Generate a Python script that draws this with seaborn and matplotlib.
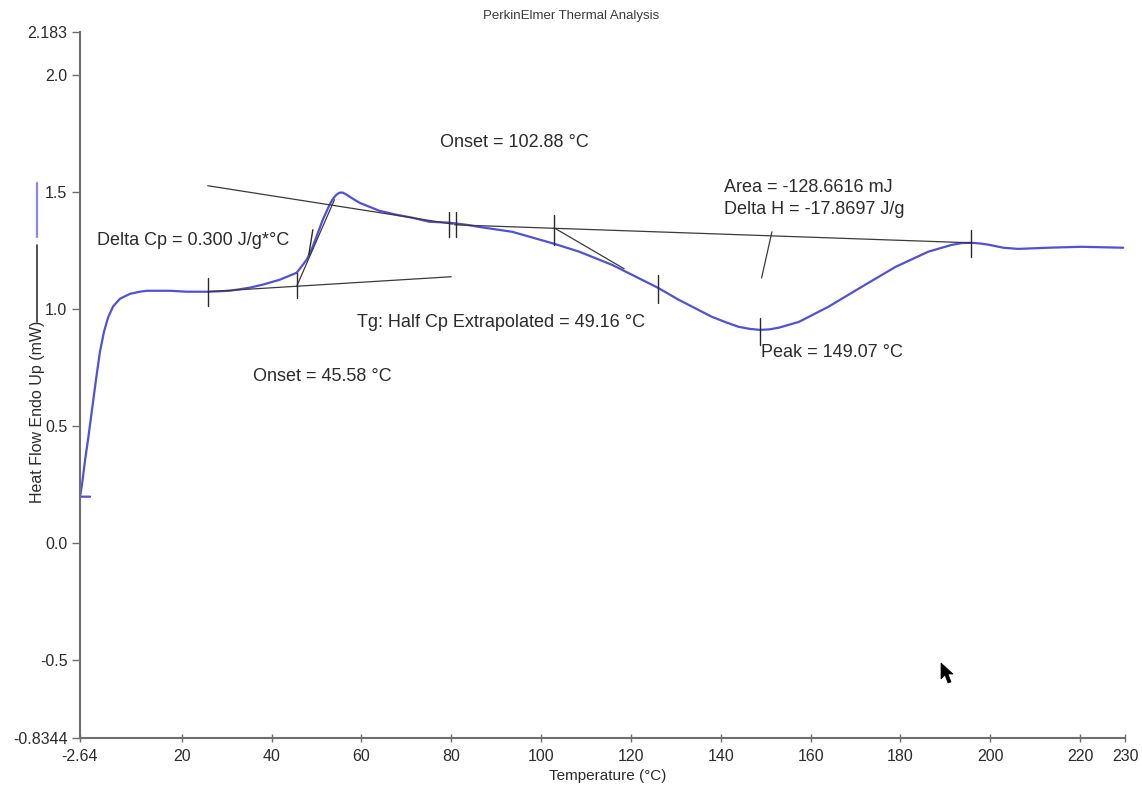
import numpy as np
import pandas as pd
import matplotlib
matplotlib.use("Agg")
import matplotlib.pyplot as plt
import seaborn as sns
from matplotlib.lines import Line2D
from matplotlib.patches import Polygon

# ---------------- data ----------------
temperature = [-0.4, -2.64, -2.2, -1.5, -0.86, 0.03, 0.92, 1.8, 2.7, 3.6, 4.7, 6.25, 8.5,
               10.7, 12.25, 17.4, 21.1, 25.8, 30.7, 35.1, 38.0, 41.8, 45.6, 47.8, 48.9,
               50.0, 51.4, 52.9, 53.6, 54.4, 55.1, 55.8, 56.6, 57.8, 59.6, 61.8, 64.0,
               67.8, 71.4, 75.1, 79.6, 83.4, 86.2, 93.6, 102.9, 108.5, 115.8, 126.0,
               130.7, 138.0, 141.2, 144.0, 146.5, 148.7, 150.8, 152.9, 157.4, 164.0,
               171.4, 178.9, 186.2, 191.4, 193.7, 195.8, 197.8, 199.6, 202.9, 206.2,
               212.9, 220.2, 229.6]
heat_flow = [0.197, 0.197, 0.248, 0.355, 0.44, 0.568, 0.697, 0.816, 0.902, 0.962, 1.009,
             1.043, 1.064, 1.073, 1.077, 1.077, 1.073, 1.073, 1.077, 1.090, 1.103, 1.124,
             1.154, 1.209, 1.252, 1.308, 1.380, 1.444, 1.468, 1.487, 1.496, 1.497, 1.489,
             1.474, 1.453, 1.436, 1.419, 1.402, 1.389, 1.372, 1.368, 1.359, 1.350, 1.329,
             1.278, 1.244, 1.188, 1.090, 1.038, 0.966, 0.942, 0.923, 0.914, 0.910, 0.912,
             0.919, 0.944, 1.009, 1.094, 1.179, 1.244, 1.273, 1.281, 1.282, 1.279, 1.274,
             1.261, 1.256, 1.261, 1.265, 1.261]

# construction lines (start T, start y, end T, end y)
tg_upper_base = [25.8, 1.526, 80.3, 1.362]
tg_lower_base = [25.8, 1.073, 80.0, 1.137]
tg_tangent = [45.6, 1.096, 54.0, 1.466]
peak_base = [80.7, 1.359, 195.8, 1.282]
peak_tangent = [102.9, 1.346, 118.5, 1.171]
area_leader = [151.4, 1.329, 149.1, 1.132]

# tick marks on the curve (T_top, y_top, T_bottom, y_bottom)
marker_T0 = [25.8, 45.6, 49.2, 79.6, 81.0, 102.9, 126.0, 148.7, 195.8]
marker_y0 = [1.132, 1.154, 1.338, 1.415, 1.415, 1.402, 1.145, 0.962, 1.338]
marker_T1 = [25.8, 45.6, 48.3, 79.6, 81.0, 102.9, 126.0, 148.7, 195.8]
marker_y1 = [1.013, 1.047, 1.231, 1.308, 1.308, 1.274, 1.026, 0.846, 1.222]

x_ticks = [-2.64, 20, 40, 60, 80, 100, 120, 140, 160, 180, 200, 220, 230]
x_tick_labels = ["-2.64", "20", "40", "60", "80", "100", "120", "140", "160", "180", "200", "220", "230"]
y_ticks = [-0.8344, -0.5, 0.0, 0.5, 1.0, 1.5, 2.0, 2.183]
y_tick_labels = ["-0.8344", "-0.5", "0.0", "0.5", "1.0", "1.5", "2.0", "2.183"]

annotations = [
    ("Onset = 102.88 °C", 77.4, 1.709),
    ("Area = -128.6616 mJ", 140.7, 1.517),
    ("Delta H = -17.8697 J/g", 140.7, 1.423),
    ("Delta Cp = 0.300 J/g*°C", 1.1, 1.291),
    ("Tg: Half Cp Extrapolated = 49.16 °C", 59.1, 0.940),
    ("Onset = 45.58 °C", 35.8, 0.709),
    ("Peak = 149.07 °C", 149.0, 0.812),
]

# ---------------- style ----------------
sns.set_theme(style="white")
FONT = ["Liberation Sans Narrow", "Liberation Sans", "DejaVu Sans"]
plt.rcParams["font.family"] = FONT
TXT = "#2b2b2b"
CURVE = "#5050d8"
AXC = "#6e6e6e"

W, H = 1142, 787
fig = plt.figure(figsize=(W / 100, H / 100), dpi=100)
ax = fig.add_axes([80 / W, 1 - 738 / H, (1125 - 80) / W, (738 - 32) / H])

df = pd.DataFrame({"T": temperature, "HF": heat_flow})
sns.lineplot(data=df, x="T", y="HF", sort=False, estimator=None, color=CURVE,
             linewidth=1.6, ax=ax)

lk = dict(color="#3a3a3a", linewidth=0.9)
for seg in [tg_upper_base, tg_lower_base, tg_tangent, peak_base, peak_tangent, area_leader]:
    ax.plot([seg[0], seg[2]], [seg[1], seg[3]], **lk)
for t0, y0, t1, y1 in zip(marker_T0, marker_y0, marker_T1, marker_y1):
    ax.plot([t0, t1], [y0, y1], color="#2a2a2a", linewidth=1.0)

for txt, xt, yt in annotations:
    ax.text(xt, yt, txt, fontsize=13, color=TXT, ha="left", va="center")

ax.set_xlim(-2.64, 230)
ax.set_ylim(-0.8344, 2.183)
ax.set_xticks(x_ticks)
ax.set_xticklabels(x_tick_labels)
ax.set_yticks(y_ticks)
ax.set_yticklabels(y_tick_labels)
ax.tick_params(axis="x", bottom=True, direction="inout", length=6, width=1, colors=AXC,
               labelcolor=TXT, labelsize=11.5, pad=5)
ax.tick_params(axis="y", left=True, direction="out", length=6, width=1, colors=AXC,
               labelcolor=TXT, labelsize=11.5, pad=3)
ax.set_xlabel("")
ax.set_ylabel("")
for s in ["top", "right"]:
    ax.spines[s].set_visible(False)
for s in ["left", "bottom"]:
    ax.spines[s].set_color(AXC)
    ax.spines[s].set_linewidth(1.5)

# titles / labels
fig.text(571 / W, 1 - 16 / H, "PerkinElmer Thermal Analysis", ha="center", va="center",
         fontsize=9.5, color="#3a3a3a")
fig.text(608 / W, 1 - 776 / H, "Temperature (°C)", ha="center", va="center",
         fontsize=11, color=TXT)
fig.text(38 / W, 1 - 412 / H, "Heat Flow Endo Up (mW)", ha="center", va="center",
         rotation=90, fontsize=11.5, color=TXT)
# legend swatches beside the y label
fig.add_artist(Line2D([37 / W, 37 / W], [1 - 237 / H, 1 - 183 / H],
                      color="#8888e8", linewidth=1.6, transform=fig.transFigure))
fig.add_artist(Line2D([37 / W, 37 / W], [1 - 322 / H, 1 - 245 / H],
                      color="#333333", linewidth=1.2, transform=fig.transFigure))

# mouse pointer captured in the screenshot
cursor_px = [(941, 663), (941, 679), (945, 675), (948, 683), (951, 682), (948, 674), (953, 674)]
fig.add_artist(Polygon([(px / W, 1 - py / H) for px, py in cursor_px], closed=True,
                       facecolor="black", edgecolor="black", linewidth=0.5,
                       transform=fig.transFigure))

fig.savefig("out.png", dpi=100, facecolor="white")
